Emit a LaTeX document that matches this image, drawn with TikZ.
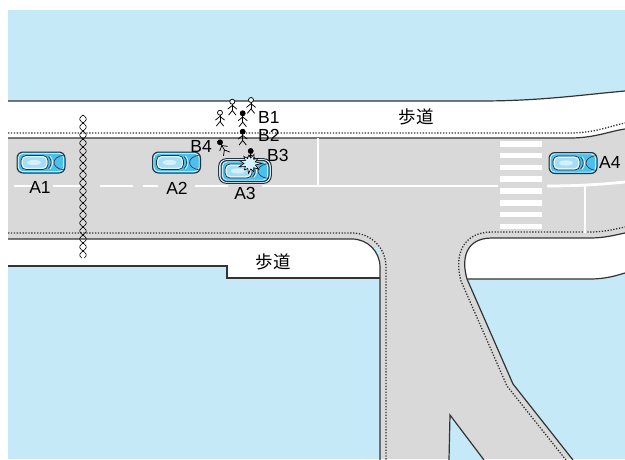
\documentclass[tikz,border=0pt]{standalone}
\usepackage{fontspec}
\setmainfont{Liberation Sans}
\newfontfamily\jpfont{Noto Sans CJK JP}
\usetikzlibrary{calc}

\definecolor{water}{HTML}{C6E9F8}
\definecolor{asphalt}{HTML}{D9D9D9}
\definecolor{edge}{HTML}{333333}
\definecolor{carbody}{HTML}{4DBFEC}
\definecolor{carglass}{HTML}{A3DEF6}
\definecolor{cardark}{HTML}{1E3440}
\definecolor{flash}{HTML}{D5F1FB}

\tikzset{
  kerb/.style={draw=edge, line width=1.2pt},
  kerbdots/.style={draw=edge, line width=1.3pt, dash pattern=on 1.3pt off 1.6pt},
  paint/.style={draw=white, line width=2.8pt},
  stripe/.style={fill=white},
  figline/.style={draw=black, line width=0.75pt},
  label/.style={font=\fontsize{17.5}{19}\selectfont, inner sep=0pt},
  jplabel/.style={font=\jpfont\fontsize{17.5}{19}\selectfont, inner sep=0pt},
  pics/walker/.style={code={
    \draw[figline] (0,2.4) -- (0,8.8);
    \draw[figline] (-4.6,7.4) -- (0,3.7) -- (4.6,7.4);
    \draw[figline] (-3.7,13.4) -- (0,8.8) -- (3.7,13.4);
    \draw[figline, fill=#1] (0,0) circle (2.5);
  }},
  pics/car/.style={code={
    \draw[fill=carbody, draw=cardark, line width=1pt, rounded corners=6pt] (-24,-10.5) rectangle (24,10.5);
    \draw[white, line width=0.6pt, rounded corners=4.5pt] (-22.6,-9.1) rectangle (22.6,9.1);
    \draw[fill=carglass, draw=cardark, line width=0.7pt, rounded corners=5pt] (-20,-7) rectangle (7,7);
    \draw[white, line width=0.8pt, rounded corners=3.8pt] (-18.7,-5.7) rectangle (5.7,5.7);
    \fill[white, opacity=0.55] (-7,0) ellipse (7 and 2.6);
    \draw[cardark, line width=0.6pt] (7.5,-6) .. controls (11,-3) and (11,3) .. (7.5,6);
    \draw[white, line width=0.6pt] (9,-6.5) .. controls (12.5,-3) and (12.5,3) .. (9,6.5);
    \draw[cardark, line width=0.6pt] (23,-7.5) .. controls (16,-6.5) and (13,-3) .. (13,0)
                                     .. controls (13,3) and (16,6.5) .. (23,7.5);
  }},
  pics/carring/.style={code={
    \draw[draw=cardark, fill=white, line width=1pt, rounded corners=7.5pt] (-26.3,-12.3) rectangle (26.3,12.3);
  }}
}

\begin{document}
\begin{tikzpicture}[x=1pt, y=-1pt]
\useasboundingbox (0,0) rectangle (625,459);
\begin{scope}
\clip (8,10) rectangle (625,459);

% water / open ground
\fill[water] (8,10) rectangle (625,459);

% carriageway: main road and the side road going down
\fill[asphalt] (8,120) rectangle (625,248);
\fill[asphalt] (380,239) -- (380,459) -- (572,459) -- (513,384) -- (467,279) -- (467,239) -- cycle;

% island between the two branches of the side road
\draw[kerb, fill=water] (449,460) -- (450,415) -- (484,460);

% upper footway
\fill[white] (8,101) -- (480,101) .. controls (540,101) and (580,95) .. (625,91)
  -- (625,129) .. controls (610,131) and (595,138) .. (570,138) -- (8,138) -- cycle;
\draw[kerb] (8,101) -- (480,101) .. controls (540,101) and (580,95) .. (625,91);
\draw[kerb] (8,138) -- (570,138) .. controls (595,138) and (610,131) .. (625,129);
\draw[kerbdots] (8,133) -- (570,133) .. controls (595,133) and (610,126) .. (625,123);

% lower left footway with its rounded corner
\fill[white] (8,239) -- (352,239) .. controls (367.5,239) and (380,251.5) .. (380,267)
  -- (380,278) -- (227,278) -- (227,266) -- (8,266) -- cycle;
\draw[kerb] (8,239) -- (352,239) .. controls (367.5,239) and (380,251.5) .. (380,267) -- (380,460);
\draw[kerb] (8,266) -- (227,266) -- (227,278) -- (380,278);
\draw[kerbdots] (8,233) -- (352,233) .. controls (371,233) and (386,248) .. (386,267) -- (386,460);

% lower right footway
\fill[white] (467,279) .. controls (461,258) and (466,238) .. (492,238) -- (590,238)
  .. controls (605,238) and (615,235) .. (625,233) -- (625,273)
  .. controls (615,276) and (605,279) .. (590,279) -- cycle;
\draw[kerb] (573,460) -- (513,384) -- (467,279) .. controls (461,258) and (466,238) .. (492,238)
  -- (590,238) .. controls (605,238) and (615,235) .. (625,233);
\draw[kerb] (467,279) -- (590,279) .. controls (605,279) and (615,276) .. (625,273);
\draw[kerbdots] (566,460) -- (507,386) -- (461,281) .. controls (454,256) and (462,232) .. (492,232)
  -- (590,232) .. controls (605,232) and (615,229) .. (625,227);

% road markings
\foreach \a/\b in {14/32, 53/80, 100/133, 143/158, 195/228}
  \draw[paint] (\a,186) -- (\b,186);
\draw[paint] (262,186) -- (498,186);
\draw[paint] (547,186) .. controls (580,186) and (605,184) .. (625,182);
\draw[paint, line width=2.5pt] (318,138) -- (318,186);
\draw[paint, line width=2.5pt] (585,186) -- (585,233);
\foreach \i in {0,...,7}
  \fill[stripe] (500,{141+11.8*\i}) rectangle (542,{146.5+11.8*\i});

% break symbol across the road
\draw[black, line width=0.65pt] plot[domain=115:258, samples=240] ({83+3.2*sin((\x-115)*22.5)}, \x);
\draw[black, line width=0.65pt] plot[domain=115:258, samples=240] ({83-3.2*sin((\x-115)*22.5)}, \x);

% vehicles
\pic at (41,162.5) {car};
\pic at (176.5,162.5) {car};
\pic at (245,171) {carring};
\pic at (245,171) {car};
\pic at (573,163) {car};

% pedestrians
\pic at (220,112.7) {walker=white};
\pic at (232.3,101.7) {walker=white};
\pic at (251,100) {walker=white};
\pic at (242.7,113.3) {walker=black};
\pic at (242.7,131.7) {walker=black};
\pic[rotate=30] at (220,142.3) {walker=black};
\pic at (250.7,151) {walker=black};

% impact burst
\coordinate (hit) at (250,163.5);
\draw[fill=flash, draw=black, line width=0.6pt] ($(hit)+(0:12)$)
  \foreach \a/\r in {16/5.5, 33/10.5, 49/5.5, 65/9, 82/5.5, 98/10, 114/5.5, 131/8.5, 147/5.5, 163/11.5,
                     180/6, 196/10.5, 212/5.5, 229/9.5, 245/5.5, 262/8.5, 278/5.5, 294/10, 311/5.5, 327/9.5, 343/5.5}
    { -- ($(hit)+(\a:\r)$) } -- cycle;
\end{scope}

% labels
\node[label] (lA1) at (40,187) {A1};
\node[label] (lA2) at (177,188) {A2};
\node[label] (lA3) at (245,193) {A3};
\node[label, anchor=west] (lA4) at (599,162) {A4};
\node[label, anchor=west] (lB1) at (258,117) {B1};
\node[label, anchor=west] (lB2) at (258,135) {B2};
\node[label, anchor=west] (lB3) at (267,155) {B3};
\node[label, anchor=east] (lB4) at (212,146) {B4};
\node[jplabel] (walkN) at (416,117) {歩道};
\node[jplabel] (walkS) at (273,262) {歩道};
\end{tikzpicture}
\end{document}
